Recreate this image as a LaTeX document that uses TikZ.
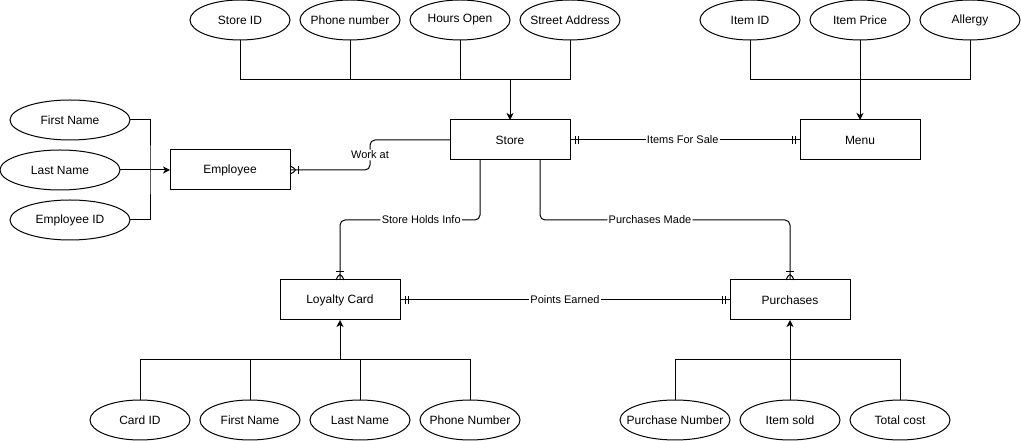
\documentclass[tikz,border=0pt]{standalone}
\usepackage{fontspec}
\setmainfont{Liberation Sans}
\usepackage{tikz}
\usetikzlibrary{positioning,arrows.meta,shapes.geometric,decorations.markings}

\begin{document}
\begin{tikzpicture}[x=0.75pt, y=-0.75pt, line width=0.75pt,
    entity/.style={rectangle, draw, minimum width=90pt, minimum height=30pt, outer sep=0pt, font=\fontsize{9}{11}\selectfont},
    attr/.style={ellipse, draw, minimum width=75pt, minimum height=30pt, inner xsep=-12pt, inner ysep=0pt, outer sep=0pt, font=\fontsize{9}{11}\selectfont},
    rellabel/.style={fill=white, inner sep=1pt, font=\fontsize{8.25}{10}\selectfont},
    arr/.style={-{Stealth[length=5.25pt, width=5.25pt, inset=1.5pt]}},
    oneone/.style={postaction={decorate, decoration={markings,
        mark=at position 3.75pt with {\draw (0,-3pt) -- (0,3pt);},
        mark=at position 6pt with {\draw (0,-3pt) -- (0,3pt);},
        mark=at position -6pt with {\draw (0,-3pt) -- (0,3pt);},
        mark=at position -3.75pt with {\draw (0,-3pt) -- (0,3pt);}}}},
    onemany/.style={rounded corners=3.75pt, postaction={decorate, decoration={markings,
        mark=at position -6pt with {\draw (0,-3pt) -- (0,3pt); \draw (6pt,-3pt) -- (0,0) -- (6pt,3pt);}}}},
]
    \useasboundingbox (0,0) rectangle (1021,441);

    % entities
    \node[entity] (store) at (510,140) {Store};
    \node[entity] (menu) at (860,140) {Menu};
    \node[entity] (employee) at (230,170) {Employee};
    \node[entity] (loyalty) at (340,300) {Loyalty Card};
    \node[entity] (purchases) at (790,300) {Purchases};

    % store attributes
    \node[attr] (storeid) at (240,20) {Store ID};
    \node[attr] (storephone) at (350,20) {Phone number};
    \node[attr] (hours) at (460,20) {Hours Open};
    \node[attr] (address) at (570,20) {Street Address};
    \coordinate (storejoin) at (510,80);
    \draw (storeid.south) -- (storeid.south |- storejoin) -- (address.south |- storejoin) -- (address.south);
    \draw (storephone.south) -- (storephone.south |- storejoin);
    \draw (hours.south) -- (hours.south |- storejoin);
    \draw[arr] (storejoin) -- (store.north);

    % menu attributes
    \node[attr] (itemid) at (750,20) {Item ID};
    \node[attr] (itemprice) at (860,20) {Item Price};
    \node[attr] (allergy) at (970,20) {Allergy};
    \coordinate (menujoin) at (860,80);
    \draw (itemid.south) -- (itemid.south |- menujoin) -- (allergy.south |- menujoin) -- (allergy.south);
    \draw[arr] (itemprice.south) -- (menu.north);

    % employee attributes
    \node[attr, minimum width=90pt] (empfirst) at (70,120) {First Name};
    \node[attr, minimum width=90pt] (emplast) at (60,170) {Last Name};
    \node[attr, minimum width=90pt] (empid) at (70,220) {Employee ID};
    \coordinate (empjoin) at (150,170);
    \draw (empfirst.east) -| (empjoin) |- (empid.east);
    \draw[arr] (emplast.east) -- (employee.west);

    % loyalty card attributes
    \node[attr] (cardid) at (140,420) {Card ID};
    \node[attr] (cardfirst) at (250,420) {First Name};
    \node[attr] (cardlast) at (360,420) {Last Name};
    \node[attr] (cardphone) at (470,420) {Phone Number};
    \coordinate (cardjoin) at (340,360);
    \draw (cardid.north) -- (cardid.north |- cardjoin) -- (cardphone.north |- cardjoin) -- (cardphone.north);
    \draw (cardfirst.north) -- (cardfirst.north |- cardjoin);
    \draw (cardlast.north) -- (cardlast.north |- cardjoin);
    \draw[arr] (cardjoin) -- (loyalty.south);

    % purchases attributes
    \node[attr, minimum width=82.5pt] (purchnum) at (675,420) {Purchase Number};
    \node[attr] (itemsold) at (790,420) {Item sold};
    \node[attr] (totalcost) at (900,420) {Total cost};
    \coordinate (purchjoin) at (790,360);
    \draw (purchnum.north) -- (purchnum.north |- purchjoin) -- (totalcost.north |- purchjoin) -- (totalcost.north);
    \draw[arr] (itemsold.north) -- (purchases.south);

    % relationships
    \coordinate (workbend) at (370,155);
    \coordinate (holdscorner) at (340,220);
    \coordinate (madecorner) at (790,220);
    \draw[onemany] (store.west) -| (workbend) node[rellabel] {Work at} |- (employee.east);
    \draw[onemany] ([xshift=-22.5pt]store.south) |- node[rellabel, pos=0.71] {Store Holds Info} (holdscorner) -- (loyalty.north);
    \draw[onemany] ([xshift=22.5pt]store.south) |- node[rellabel, pos=0.72] {Purchases Made} (madecorner) -- (purchases.north);
    \draw[oneone] (store.east) -- node[rellabel, pos=0.49] {Items For Sale} (menu.west);
    \draw[oneone] (loyalty.east) -- node[rellabel] {Points Earned} (purchases.west);
\end{tikzpicture}
\end{document}
